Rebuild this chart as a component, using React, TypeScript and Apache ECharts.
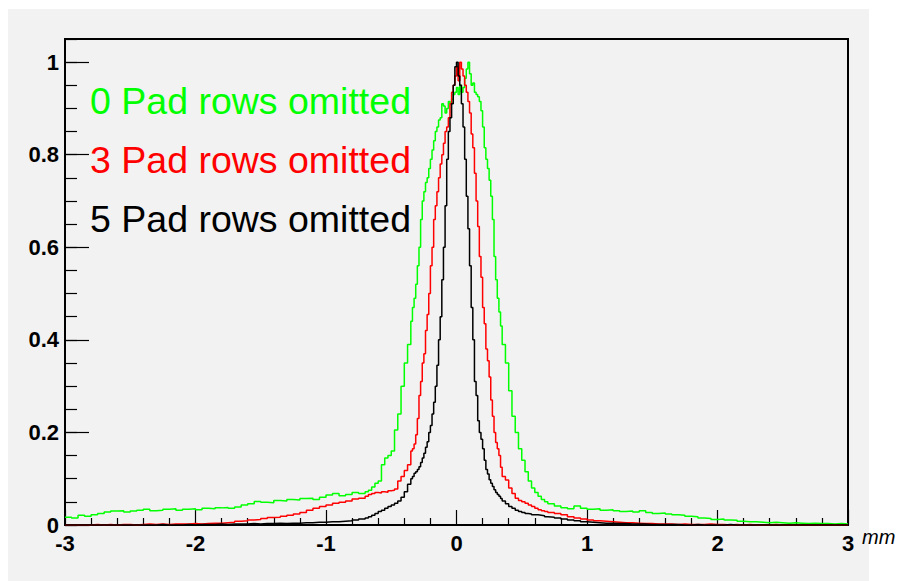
import React, { useEffect, useRef } from "react";
import * as echarts from "echarts";

// Histogram binning: [from, to, bin width]
const binSegments: [number, number, number][] = [
  [-3, -0.7, 0.05],
  [-0.7, -0.35, 0.025],
  [-0.35, 0.35, 0.0125],
  [0.35, 0.7, 0.025],
  [0.7, 3, 0.05],
];

const xTickLabels = ["-3", "-2", "-1", "0", "1", "2", "3"];
const yTickLabels = ["0", "0.2", "0.4", "0.6", "0.8", "1"];
const legendLabels = ["0 Pad rows omitted", "3 Pad rows omitted", "5 Pad rows omitted"];
const xUnit = "mm";

// ---- 0 Pad rows omitted (green)
const greenLeftTail = [
  0.017, 0.015, 0.021, 0.019, 0.022, 0.025, 0.028, 0.030, 0.031, 0.028,
  0.030, 0.032, 0.034, 0.031, 0.032, 0.034, 0.035, 0.032, 0.034, 0.035,
  0.033, 0.036, 0.035, 0.037, 0.038, 0.036, 0.039, 0.043, 0.046, 0.051,
  0.049, 0.048, 0.053, 0.052, 0.055, 0.054, 0.057, 0.058, 0.055, 0.060,
  0.065, 0.068, 0.063, 0.066, 0.070, 0.068,
];
const greenLeftMid = [0.072, 0.075, 0.082, 0.090, 0.095, 0.130, 0.145, 0.150, 0.160, 0.205, 0.240, 0.300, 0.350, 0.390];
const greenCore = [
  0.44, 0.47, 0.49, 0.52, 0.56, 0.60, 0.66, 0.70, 0.72, 0.74,
  0.75, 0.77, 0.79, 0.81, 0.83, 0.85, 0.86, 0.875, 0.88, 0.91,
  0.905, 0.89, 0.90, 0.915, 0.91, 0.92, 0.93, 0.935, 0.945, 0.93,
  0.95, 0.935, 0.945, 0.965, 0.985, 1.0, 0.975, 0.95, 0.955, 0.935,
  0.93, 0.925, 0.915, 0.895, 0.86, 0.815, 0.79, 0.77, 0.745, 0.71,
  0.66, 0.58, 0.53, 0.49, 0.46, 0.43,
];
const greenRightMid = [0.39, 0.35, 0.29, 0.235, 0.20, 0.165, 0.14, 0.115, 0.095, 0.08, 0.07, 0.062, 0.055, 0.05];
const greenRightTail = [
  0.046, 0.041, 0.037, 0.035, 0.041, 0.036, 0.034, 0.035, 0.032, 0.033,
  0.031, 0.029, 0.030, 0.028, 0.031, 0.027, 0.025, 0.026, 0.024, 0.022,
  0.021, 0.019, 0.018, 0.015, 0.014, 0.012, 0.013, 0.011, 0.010, 0.008,
  0.007, 0.007, 0.006, 0.005, 0.006, 0.005, 0.004, 0.005, 0.004, 0.003,
  0.004, 0.003, 0.003, 0.002, 0.003, 0.002,
];

// ---- 3 Pad rows omitted (red)
const redLeftTail = [
  0, 0, 0, 0, 0.001, 0, 0.001, 0, 0.001, 0.001,
  0, 0.001, 0.002, 0.001, 0.002, 0.001, 0.002, 0.002, 0.002, 0.003,
  0.002, 0.003, 0.004, 0.004, 0.005, 0.006, 0.008, 0.009, 0.011, 0.012,
  0.014, 0.016, 0.017, 0.019, 0.021, 0.024, 0.027, 0.032, 0.036, 0.040,
  0.043, 0.047, 0.049, 0.052, 0.056, 0.058,
];
const redLeftMid = [0.062, 0.066, 0.068, 0.070, 0.069, 0.072, 0.071, 0.074, 0.075, 0.078, 0.095, 0.105, 0.118, 0.130];
const redCore = [
  0.16, 0.165, 0.175, 0.195, 0.23, 0.28, 0.31, 0.35, 0.37, 0.42,
  0.455, 0.50, 0.56, 0.60, 0.66, 0.69, 0.72, 0.75, 0.78, 0.80,
  0.825, 0.85, 0.86, 0.88, 0.91, 0.935, 0.95, 0.97, 0.99, 0.96,
  1.0, 0.985, 0.97, 0.95, 0.935, 0.915, 0.89, 0.845, 0.815, 0.76,
  0.70, 0.645, 0.58, 0.535, 0.47, 0.435, 0.38, 0.355, 0.32, 0.27,
  0.235, 0.20, 0.178, 0.165, 0.15, 0.125,
];
const redRightMid = [0.105, 0.097, 0.080, 0.068, 0.058, 0.053, 0.050, 0.047, 0.043, 0.040, 0.036, 0.033, 0.031, 0.029];
const redRightTail = [
  0.027, 0.025, 0.022, 0.018, 0.015, 0.013, 0.011, 0.009, 0.008, 0.007,
  0.006, 0.005, 0.005, 0.004, 0.003, 0.003, 0.002, 0.002, 0.002, 0.001,
  0.002, 0.001, 0.001, 0.001, 0.002, 0.001, 0.001, 0, 0.001, 0,
  0.001, 0, 0, 0, 0.001, 0, 0, 0, 0, 0,
  0, 0, 0, 0, 0, 0,
];

// ---- 5 Pad rows omitted (black)
const blackLeftTail = [
  0, 0, 0, 0, 0, 0, 0, 0, 0, 0,
  0, 0, 0, 0, 0.001, 0, 0, 0, 0.001, 0,
  0.001, 0.001, 0.001, 0.002, 0.001, 0.002, 0.002, 0.002, 0.003, 0.002,
  0.003, 0.003, 0.004, 0.003, 0.004, 0.004, 0.005, 0.005, 0.006, 0.006,
  0.007, 0.007, 0.008, 0.009, 0.011, 0.013,
];
const blackLeftMid = [0.015, 0.018, 0.021, 0.025, 0.029, 0.032, 0.036, 0.040, 0.043, 0.047, 0.052, 0.060, 0.072, 0.088];
const blackCore = [
  0.10, 0.105, 0.112, 0.115, 0.12, 0.126, 0.135, 0.145, 0.155, 0.168,
  0.18, 0.20, 0.215, 0.24, 0.265, 0.30, 0.345, 0.40, 0.45, 0.53,
  0.60, 0.69, 0.79, 0.85, 0.88, 0.91, 0.95, 0.99, 1.0, 0.97,
  0.95, 0.91, 0.86, 0.79, 0.71, 0.64, 0.56, 0.47, 0.40, 0.31,
  0.28, 0.225, 0.20, 0.185, 0.165, 0.14, 0.12, 0.11, 0.098, 0.09,
  0.083, 0.076, 0.07, 0.066, 0.062, 0.057,
];
const blackRightMid = [0.052, 0.046, 0.040, 0.036, 0.032, 0.029, 0.027, 0.025, 0.024, 0.022, 0.022, 0.021, 0.020, 0.018];
const blackRightTail = [
  0.017, 0.015, 0.013, 0.011, 0.009, 0.007, 0.006, 0.005, 0.004, 0.004,
  0.003, 0.003, 0.002, 0.002, 0.002, 0.001, 0.001, 0.001, 0.001, 0.001,
  0, 0, 0.001, 0, 0, 0, 0, 0.001, 0, 0,
  0, 0, 0, 0, 0, 0, 0, 0, 0, 0,
  0, 0, 0, 0, 0, 0,
];

const GREEN = "#00ff00";
const RED = "#ff0000";
const BLACK = "#000000";
const PANEL = "#f2f2f2";
const FONT = '"Liberation Sans", Arial, Helvetica, sans-serif';

function buildEdges(): number[] {
  const edges: number[] = [];
  for (const [a, b, w] of binSegments) {
    const n = Math.round((b - a) / w);
    for (let i = 0; i < n; i++) edges.push(+(a + i * w).toFixed(5));
  }
  return edges;
}

function histData(values: number[], edges: number[]): [number, number][] {
  const pts: [number, number][] = edges.map((e, i) => [e, values[i]]);
  pts.push([3, values[values.length - 1]]);
  return pts;
}

export default function App() {
  const ref = useRef<HTMLDivElement>(null);

  useEffect(() => {
    if (!ref.current) return;
    const chart = echarts.init(ref.current, undefined, { renderer: "svg" });
    const edges = buildEdges();
    const green = [...greenLeftTail, ...greenLeftMid, ...greenCore, ...greenRightMid, ...greenRightTail];
    const red = [...redLeftTail, ...redLeftMid, ...redCore, ...redRightMid, ...redRightTail];
    const black = [...blackLeftTail, ...blackLeftMid, ...blackCore, ...blackRightMid, ...blackRightTail];

    const mkSeries = (name: string, vals: number[], color: string) => ({
      name,
      type: "line",
      step: "end",
      showSymbol: false,
      symbol: "none",
      silent: true,
      clip: true,
      xAxisIndex: 0,
      yAxisIndex: 0,
      lineStyle: { color, width: 1.5 },
      data: histData(vals, edges),
    });

    const legendText = (i: number, y: number, color: string) => ({
      type: "text",
      x: 82,
      y,
      silent: true,
      style: {
        text: legendLabels[i],
        fill: color,
        font: `37.5px ${FONT}`,
        verticalAlign: "middle",
        textVerticalAlign: "middle",
      },
    });

    const option: any = {
      animation: false,
      backgroundColor: "transparent",
      grid: {
        left: 57,
        top: 30,
        right: 49,
        bottom: 56,
        show: true,
        borderColor: "#000",
        borderWidth: 2,
        backgroundColor: PANEL,
      },
      xAxis: {
        type: "value",
        min: -3,
        max: 3,
        interval: 1,
        axisLine: { show: true, onZero: false, lineStyle: { color: "#000", width: 1.5 } },
        axisTick: { show: true, inside: true, length: 15, lineStyle: { color: "#000", width: 1.2 } },
        minorTick: { show: true, splitNumber: 5, length: 7, lineStyle: { color: "#000", width: 1.2 } },
        splitLine: { show: false },
        axisLabel: {
          margin: 7,
          color: "#000",
          fontWeight: "bold",
          fontSize: 22,
          fontFamily: FONT,
          formatter: (v: number) => xTickLabels[Math.round(v) + 3] ?? "",
        },
      },
      yAxis: [
        {
          type: "value",
          min: 0,
          max: 1.05,
          interval: 0.2,
          axisLine: { show: true, onZero: false, lineStyle: { color: "#000", width: 1.5 } },
          axisTick: { show: true, inside: true, length: 24, lineStyle: { color: "#000", width: 1.2 } },
          splitLine: { show: false },
          axisLabel: {
            margin: 6,
            color: "#000",
            fontWeight: "bold",
            fontSize: 22,
            fontFamily: FONT,
            showMaxLabel: false,
            formatter: (v: number) => {
              const k = Math.round(v * 5);
              if (Math.abs(v * 5 - k) > 1e-6) return "";
              return yTickLabels[k] ?? "";
            },
          },
        },
        {
          type: "value",
          min: 0,
          max: 1.05,
          interval: 0.05,
          position: "left",
          axisLine: { show: false, onZero: false },
          axisTick: { show: true, inside: true, length: 12, lineStyle: { color: "#000", width: 1.2 } },
          axisLabel: { show: false },
          splitLine: { show: false },
        },
      ],
      series: [
        mkSeries(legendLabels[0], green, GREEN),
        mkSeries(legendLabels[1], red, RED),
        mkSeries(legendLabels[2], black, BLACK),
      ],
      graphic: [
        legendText(0, 92, GREEN),
        legendText(1, 151, RED),
        legendText(2, 210, BLACK),
        {
          type: "text",
          x: 854,
          y: 528,
          silent: true,
          style: { text: xUnit, fill: "#000", font: `italic 20px ${FONT}`, verticalAlign: "middle", textVerticalAlign: "middle" },
        },
      ],
    };
    chart.setOption(option);
    return () => chart.dispose();
  }, []);

  return (
    <div style={{ position: "absolute", left: 8, top: 9, width: 889, height: 572 }}>
      <div style={{ position: "absolute", left: 0, top: 0, width: 861, height: 572, background: PANEL }} />
      <div ref={ref} style={{ position: "absolute", left: 0, top: 0, width: 889, height: 572 }} />
    </div>
  );
}
